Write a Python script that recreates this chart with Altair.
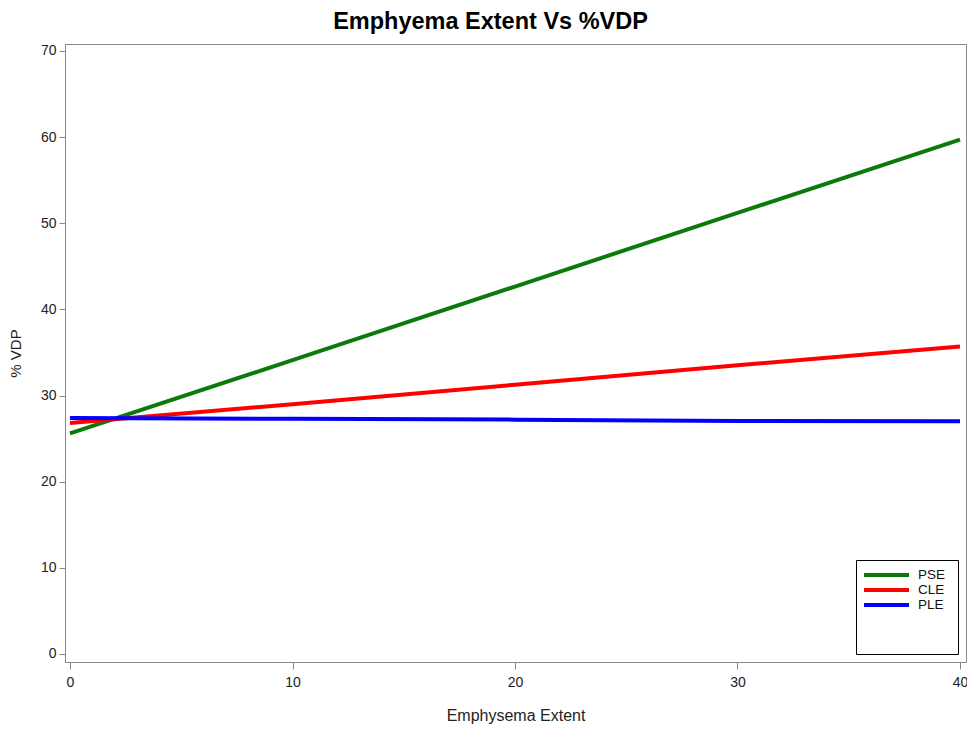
import altair as alt
import pandas as pd

# Data
x_vals = [0, 10, 20, 30, 40]
pse = [25.6, 34.1, 42.65, 51.2, 59.7]
cle = [26.8, 29.0, 31.25, 33.5, 35.7]
ple = [27.4, 27.3, 27.2, 27.05, 27.0]
series_names = ["PSE", "CLE", "PLE"]
series_colors = ["#0a7a0a", "#ff0000", "#0000ff"]

rows = []
for name, vals in zip(series_names, [pse, cle, ple]):
    for xv, yv in zip(x_vals, vals):
        rows.append({"x": xv, "y": yv, "series": name})
df = pd.DataFrame(rows)

FONT = "Liberation Sans"

chart = alt.Chart(df).mark_line(strokeWidth=4, strokeCap="butt").encode(
    x=alt.X("x:Q",
            scale=alt.Scale(domain=[-0.225, 40.27], nice=False, zero=False),
            axis=alt.Axis(values=[0, 10, 20, 30, 40], title="Emphysema Extent",
                          grid=False, tickSize=7, labelPadding=6, titlePadding=18,
                          domainColor="#888", tickColor="#888",
                          labelFont=FONT, labelFontSize=14, labelColor="#222",
                          titleFont=FONT, titleFontSize=16, titleFontWeight="normal",
                          titleColor="#222", labelFlush=False)),
    y=alt.Y("y:Q",
            scale=alt.Scale(domain=[-0.93, 70.8], nice=False, zero=False),
            axis=alt.Axis(values=[0, 10, 20, 30, 40, 50, 60, 70], title="% VDP",
                          grid=False, tickSize=6, labelPadding=3, titlePadding=17,
                          domainColor="#888", tickColor="#888",
                          labelFont=FONT, labelFontSize=14, labelColor="#222",
                          titleFont=FONT, titleFontSize=15, titleFontWeight="normal",
                          titleColor="#222", labelFlush=False)),
    color=alt.Color("series:N",
                    scale=alt.Scale(domain=series_names, range=series_colors),
                    sort=series_names,
                    legend=alt.Legend(
                        orient="none", legendX=791, legendY=516,
                        title="x" * 14, titleOrient="bottom", titlePadding=22,
                        titleFontSize=11, titleFont=FONT, titleOpacity=0,
                        symbolType="M-1.4,0H7.6", symbolSize=100, symbolStrokeWidth=4,
                        symbolFillColor="transparent",
                        labelFont=FONT, labelFontSize=13.5, labelColor="#111",
                        labelOffset=40, rowPadding=-1,
                        strokeColor="#000", fillColor="white", padding=8)),
).properties(
    width=901, height=618,
    autosize=alt.AutoSizeParams(type="none"),
    padding={"left": 57, "top": 36, "right": 1, "bottom": 62},
    title=alt.Title("Emphyema Extent Vs %VDP", font=FONT, fontSize=23.5,
                    fontWeight="bold", color="#000", anchor="middle", offset=10, dx=-25),
).configure_view(stroke="#888", strokeWidth=1)

chart.save("out.html", embed_options={"renderer": "svg", "actions": False})
